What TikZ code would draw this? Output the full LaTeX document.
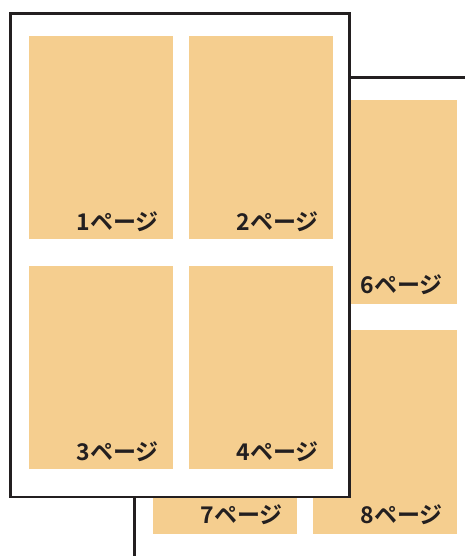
\documentclass[tikz,border=0pt]{standalone}
\usepackage{fontspec}
\newfontfamily\jpfont[BoldFont=* Bold]{Noto Sans CJK JP}
\usepackage{xcolor}
\definecolor{papel}{RGB}{245,206,143}
\definecolor{borde}{RGB}{35,31,32}
\begin{document}
\begin{tikzpicture} %Hojas con 4 paginas
  [
    x=1pt, y=-1pt,
    % Estilos para no repetir codigo
    hoja/.style={rectangle, draw=borde, line width=2.7pt, fill=white, minimum width=339pt, minimum height=483.5pt, inner sep=0pt},
    pagina/.style={rectangle, fill=papel, minimum width=143.4pt, minimum height=203.5pt, inner sep=0pt},
    texto/.style={anchor=base east, inner sep=0pt, font=\jpfont\bfseries\fontsize{23}{23}\selectfont, text=borde}
  ]
  \useasboundingbox (0,0) rectangle (465,556);
  \clip (0,0) rectangle (465,556);
  % Hoja de atras
  \node[hoja] (h2) at (304, 319.55) {};
  \node[pagina] (p6) at (385, 201.8) {};
  \node[pagina] (p7) at (225, 432) {};
  \node[pagina] (p8) at (385, 432) {};
  \node[texto] (t6) at ([shift={(-14pt,10pt)}]p6.south east) {6ページ};
  \node[texto] (t7) at ([shift={(-14pt,10pt)}]p7.south east) {7ページ};
  \node[texto] (t8) at ([shift={(-14pt,10pt)}]p8.south east) {8ページ};
  % Hoja de adelante
  \node[hoja] (h1) at (180, 255.25) {};
  \node[pagina] (p1) at (101, 137.5) {};
  \node[pagina] (p2) at (261, 137.5) {};
  \node[pagina] (p3) at (101, 367.7) {};
  \node[pagina] (p4) at (261, 367.7) {};
  \node[texto] (t1) at ([shift={(-14pt,9pt)}]p1.south east) {1ページ};
  \node[texto] (t2) at ([shift={(-14pt,9pt)}]p2.south east) {2ページ};
  \node[texto] (t3) at ([shift={(-14pt,9pt)}]p3.south east) {3ページ};
  \node[texto] (t4) at ([shift={(-14pt,9pt)}]p4.south east) {4ページ};

\end{tikzpicture}
\end{document}
